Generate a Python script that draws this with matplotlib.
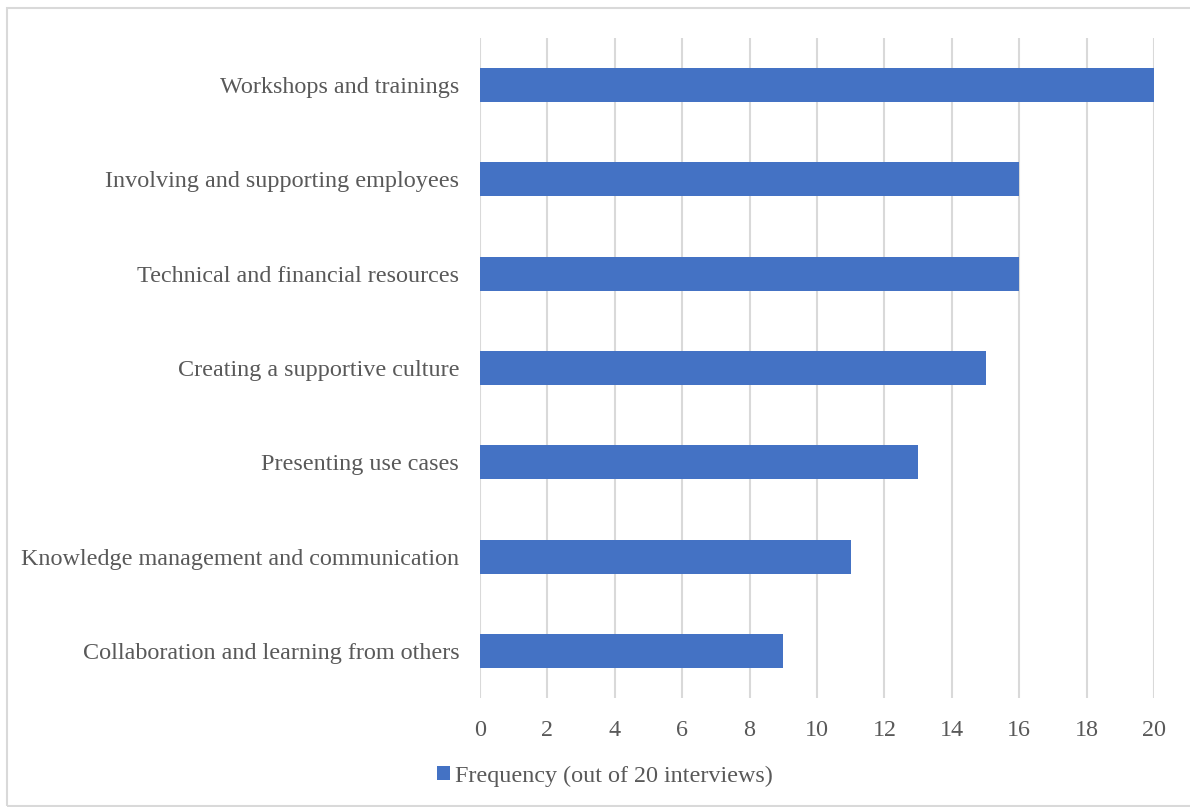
import matplotlib
matplotlib.use("Agg")
import matplotlib.pyplot as plt
from matplotlib.patches import Rectangle, Patch

categories = [
    "Workshops and trainings",
    "Involving and supporting employees",
    "Technical and financial resources",
    "Creating a supportive culture",
    "Presenting use cases",
    "Knowledge management and communication",
    "Collaboration and learning from others",
]
frequency = [20, 16, 16, 15, 13, 11, 9]
series_name = "Frequency (out of 20 interviews)"
x_ticks = list(range(0, 21, 2))

BAR = "#4472C4"
GRID = "#D9D9D9"
TEXT = "#595959"
FS = 17.4

plt.rcParams["font.family"] = ["Liberation Serif", "DejaVu Serif"]

fig = plt.figure(figsize=(11.9, 8.07), dpi=100)
ax = fig.add_axes([480 / 1190, 109 / 807, 674 / 1190, 660 / 807])

ypos = list(range(len(categories)))[::-1]
ax.barh(ypos, frequency, height=0.36, color=BAR, zorder=3)

ax.set_xlim(0, 20)
ax.set_ylim(-0.5, len(categories) - 0.5)
ax.set_xticks(x_ticks)
ax.set_xticklabels([str(t) for t in x_ticks])
ax.set_yticks(ypos)
ax.set_yticklabels(categories)

ax.grid(axis="x", color=GRID, linewidth=1.5, zorder=0)
for s in ax.spines.values():
    s.set_visible(False)
ax.tick_params(axis="both", length=0, labelsize=FS, labelcolor=TEXT)
ax.tick_params(axis="x", pad=16)
ax.tick_params(axis="y", pad=15)

# outer chart border
fig.patches.append(Rectangle((7 / 1190, 1 / 807), 1.2, 798 / 807,
                             transform=fig.transFigure, fill=False,
                             edgecolor=GRID, linewidth=1.5))

handle = Patch(facecolor=BAR, edgecolor="none")
fig.legend([handle], [series_name], loc="center", bbox_to_anchor=(605 / 1190, 1 - 776 / 807),
           frameon=False, fontsize=FS, labelcolor=TEXT, handlelength=0.55,
           handleheight=0.55, handletextpad=0.2)

fig.savefig("out.png", dpi=100)
